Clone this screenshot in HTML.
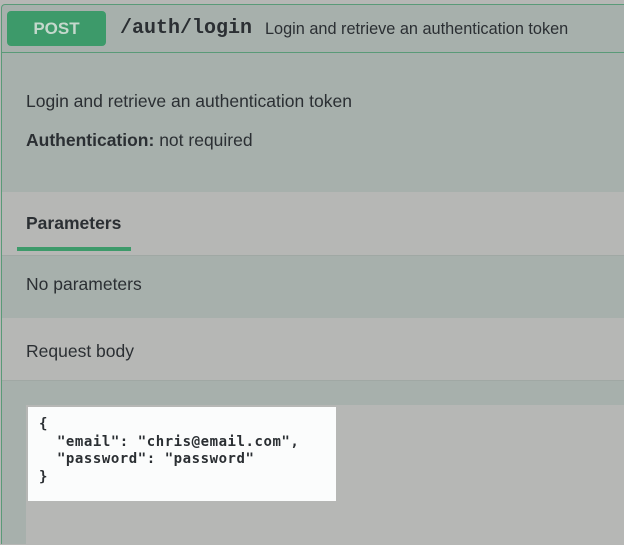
<!DOCTYPE html>
<html><head><style>
body{margin:0;width:624px;height:536px;overflow:hidden;background:#b6b7b5;position:relative;font-family:"Liberation Sans",sans-serif;color:#2b2f33}
div{position:absolute;box-sizing:border-box}
.t{font-size:17.5px;white-space:nowrap}
</style></head><body>
<div style="left:1px;top:4px;width:640px;height:540px;background:#a7b0ac;border:1px solid #5a9a78;border-right:none;border-bottom:none;border-radius:4px 0 0 0"></div>
<div style="left:1px;top:52px;width:640px;height:1px;background:#5a9a78"></div>
<div style="left:7px;top:11px;width:99px;height:35px;background:#3d9a6a;border-radius:4px;color:#c4d8cc;font-weight:bold;font-size:17px;text-align:center;line-height:35px">POST</div>
<div style="left:120px;top:17px;font-family:'Liberation Mono',monospace;font-weight:bold;font-size:20px" class="t">/auth/login</div>
<div class="t" style="left:265px;top:20px;font-size:16.3px">Login and retrieve an authentication token</div>
<div class="t" style="left:26px;top:91px">Login and retrieve an authentication token</div>
<div class="t" style="left:26px;top:130px"><b>Authentication:</b> not required</div>
<div style="left:2px;top:192px;width:622px;height:63px;background:#b6b7b5"></div>
<div class="t" style="left:26px;top:213px;font-weight:bold">Parameters</div>
<div style="left:17px;top:247px;width:114px;height:4px;background:#3d9a6a"></div>
<div style="left:2px;top:255px;width:622px;height:1px;background:#a0a8a4"></div>
<div class="t" style="left:26px;top:274px">No parameters</div>
<div style="left:2px;top:318px;width:622px;height:63px;background:#b6b7b5;border-bottom:1px solid #a0a8a4"></div>
<div class="t" style="left:26px;top:341px">Request body</div>
<div style="left:26px;top:405px;width:600px;height:140px;background:#b6b7b5"></div>
<div style="left:28px;top:407px;width:308px;height:94px;background:#fbfcfc"></div>
<div style="left:39px;top:416px;font-family:'DejaVu Sans Mono','Liberation Mono',monospace;font-weight:bold;font-size:14px;letter-spacing:0.55px;line-height:17.7px;white-space:pre;color:#2b2f33">{
  "email": "chris@email.com",
  "password": "password"
}</div>
</body></html>
